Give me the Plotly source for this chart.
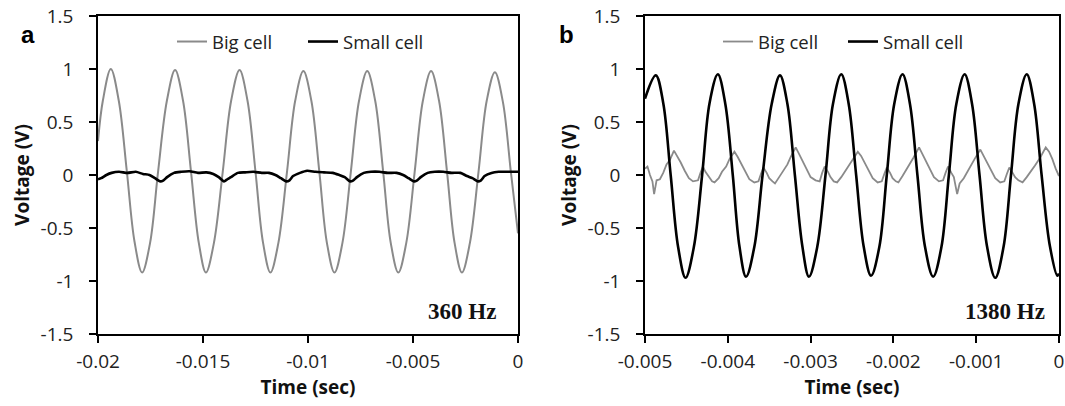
import plotly.graph_objects as go

# ---------------- data ----------------
# Panel a (360 Hz)
a_big_t = [-0.02000, -0.01977, -0.01939, -0.01901, -0.01863, -0.01826, -0.01790, -0.01752, -0.01714, -0.01672,
           -0.01633, -0.01595, -0.01557, -0.01520, -0.01486, -0.01448, -0.01406, -0.01366,
           -0.01326, -0.01288, -0.01250, -0.01214, -0.01179, -0.01141, -0.01100, -0.01061,
           -0.01022, -0.00984, -0.00946, -0.00910, -0.00874, -0.00836, -0.00796, -0.00757,
           -0.00718, -0.00680, -0.00642, -0.00606, -0.00570, -0.00532, -0.00492, -0.00453,
           -0.00414, -0.00376, -0.00338, -0.00302, -0.00267, -0.00229, -0.00188, -0.00149,
           -0.00110, -0.00072, -0.00034, 0.00000]
a_big_v = [0.32, 0.70, 1.00, 0.70, 0.04, -0.63, -0.92, -0.64, 0.03, 0.70,
           0.99, 0.70, 0.03, -0.64, -0.92, -0.64, 0.03, 0.70,
           0.99, 0.70, 0.03, -0.64, -0.92, -0.64, 0.03, 0.70,
           0.98, 0.70, 0.03, -0.64, -0.92, -0.64, 0.03, 0.70,
           0.98, 0.70, 0.03, -0.64, -0.92, -0.64, 0.03, 0.70,
           0.98, 0.70, 0.03, -0.64, -0.92, -0.64, 0.03, 0.70,
           0.97, 0.69, 0.03, -0.55]

a_small_t = [-0.02000, -0.01985, -0.01960, -0.01935, -0.01900, -0.01860, -0.01820, -0.01786, -0.01755, -0.01729,
             -0.01704, -0.01688, -0.01671, -0.01638, -0.01604, -0.01564, -0.01524, -0.01484, -0.01451, -0.01425,
             -0.01400, -0.01384, -0.01367, -0.01334, -0.01300, -0.01260, -0.01220, -0.01186, -0.01155, -0.01129,
             -0.01104, -0.01088, -0.01071, -0.01038, -0.01004, -0.00964, -0.00924, -0.00882, -0.00851, -0.00825,
             -0.00800, -0.00784, -0.00767, -0.00734, -0.00700, -0.00660, -0.00620, -0.00578, -0.00547, -0.00521,
             -0.00496, -0.00480, -0.00463, -0.00430, -0.00396, -0.00356, -0.00316, -0.00274, -0.00243, -0.00217,
             -0.00192, -0.00176, -0.00159, -0.00126, -0.00092, -0.00052, -0.00020, 0.00000]
a_small_v = [-0.04, -0.03, 0.00, 0.02, 0.03, 0.02, 0.03, 0.01, 0.00, -0.03,
             -0.06, -0.05, -0.02, 0.02, 0.03, 0.035, 0.02, 0.025, 0.01, -0.02,
             -0.06, -0.04, -0.02, 0.02, 0.025, 0.03, 0.02, 0.02, 0.00, -0.03,
             -0.06, -0.05, -0.01, 0.02, 0.04, 0.03, 0.025, 0.02, 0.00, -0.02,
             -0.06, -0.05, -0.02, 0.02, 0.03, 0.03, 0.02, 0.02, 0.00, -0.03,
             -0.06, -0.05, -0.02, 0.02, 0.03, 0.03, 0.02, 0.02, -0.01, -0.03,
             -0.06, -0.05, -0.01, 0.02, 0.03, 0.03, 0.03, 0.03]

# Panel b (1380 Hz)
b_big_t = [-0.00500, -0.00497, -0.00494, -0.00491, -0.00489, -0.00486, -0.00482, -0.00478, -0.00474, -0.00470,
           -0.00465, -0.00461, -0.00457, -0.00452, -0.00447, -0.00442, -0.00436, -0.00433, -0.00430,
           -0.00427, -0.00423, -0.00419, -0.00416, -0.00411, -0.00407, -0.00402, -0.00398,
           -0.00392, -0.00388, -0.00384, -0.00379, -0.00374, -0.00368, -0.00363, -0.00360, -0.00357, -0.00353,
           -0.00350, -0.00346, -0.00343, -0.00338, -0.00333, -0.00328, -0.00324,
           -0.00318, -0.00314, -0.00310, -0.00305, -0.00300, -0.00294, -0.00289, -0.00286, -0.00283, -0.00279,
           -0.00276, -0.00272, -0.00268, -0.00263, -0.00259, -0.00254, -0.00250,
           -0.00243, -0.00239, -0.00235, -0.00230, -0.00225, -0.00219, -0.00214, -0.00211, -0.00208, -0.00204,
           -0.00201, -0.00197, -0.00194, -0.00189, -0.00185, -0.00180, -0.00176,
           -0.00169, -0.00165, -0.00161, -0.00156, -0.00151, -0.00145, -0.00140, -0.00137, -0.00134, -0.00130,
           -0.00127, -0.00123, -0.00120, -0.00115, -0.00111, -0.00106, -0.00102,
           -0.00095, -0.00091, -0.00087, -0.00082, -0.00077, -0.00071, -0.00066, -0.00063, -0.00060, -0.00056,
           -0.00053, -0.00049, -0.00044, -0.00039, -0.00034, -0.00029, -0.00023,
           -0.00016, -0.00012, -0.00008, -0.00004, 0.00000]
b_big_v = [0.06, 0.08, 0.00, -0.06, -0.18, -0.05, -0.04, 0.02, 0.10, 0.14,
           0.23, 0.18, 0.12, 0.04, -0.03, -0.06, -0.05, 0.02, 0.08,
           0.03, -0.02, -0.06, -0.07, -0.03, 0.03, 0.08, 0.15,
           0.22, 0.17, 0.11, 0.03, -0.04, -0.07, -0.06, 0.01, 0.07, 0.02,
           -0.03, -0.06, -0.08, -0.02, 0.04, 0.10, 0.17,
           0.26, 0.20, 0.14, 0.06, -0.02, -0.05, -0.06, 0.02, 0.08, 0.03,
           -0.02, -0.06, -0.07, -0.02, 0.03, 0.08, 0.14,
           0.22, 0.18, 0.12, 0.04, -0.03, -0.07, -0.06, 0.01, 0.07, 0.02,
           -0.03, -0.06, -0.07, -0.01, 0.04, 0.10, 0.16,
           0.26, 0.20, 0.13, 0.05, -0.02, -0.06, -0.05, 0.02, 0.08, 0.02,
           -0.02, -0.18, -0.08, -0.03, 0.03, 0.09, 0.15,
           0.24, 0.18, 0.12, 0.04, -0.03, -0.07, -0.06, 0.01, 0.07, 0.02,
           -0.02, -0.05, -0.07, -0.02, 0.03, 0.09, 0.16,
           0.26, 0.22, 0.15, 0.06, -0.01]

b_small_t = [-0.00500, -0.00487, -0.00478, -0.00469, -0.00460, -0.00451, -0.00441, -0.00431, -0.00422,
             -0.00412, -0.00403, -0.00394, -0.00386, -0.00378, -0.00368, -0.00358, -0.00347,
             -0.00337, -0.00328, -0.00319, -0.00310, -0.00302, -0.00292, -0.00282, -0.00273,
             -0.00263, -0.00254, -0.00245, -0.00236, -0.00227, -0.00217, -0.00208, -0.00199,
             -0.00189, -0.00180, -0.00171, -0.00162, -0.00152, -0.00142, -0.00133, -0.00124,
             -0.00114, -0.00105, -0.00096, -0.00087, -0.00077, -0.00067, -0.00058, -0.00049,
             -0.00039, -0.00030, -0.00021, -0.00011, -0.00002, 0.00000]
b_small_v = [0.72, 0.94, 0.68, 0.00, -0.68, -0.97, -0.68, 0.00, 0.68,
             0.95, 0.67, 0.00, -0.67, -0.96, -0.68, 0.00, 0.67,
             0.94, 0.67, 0.00, -0.67, -0.96, -0.68, 0.00, 0.67,
             0.95, 0.67, 0.00, -0.67, -0.95, -0.68, 0.00, 0.67,
             0.95, 0.67, 0.00, -0.67, -0.96, -0.68, 0.00, 0.67,
             0.95, 0.67, 0.00, -0.67, -0.97, -0.68, 0.00, 0.67,
             0.95, 0.67, 0.00, -0.67, -0.95, -0.93]

series_names = ["Big cell", "Small cell"]

a_xticks = [-0.02, -0.015, -0.01, -0.005, 0]
a_xticklabels = ["-0.02", "-0.015", "-0.01", "-0.005", "0"]
b_xticks = [-0.005, -0.004, -0.003, -0.002, -0.001, 0]
b_xticklabels = ["-0.005", "-0.004", "-0.003", "-0.002", "-0.001", "0"]
yticks = [-1.5, -1, -0.5, 0, 0.5, 1, 1.5]
yticklabels = ["-1.5", "-1", "-0.5", "0", "0.5", "1", "1.5"]

freq_labels = ["360 Hz", "1380 Hz"]
panel_labels = ["a", "b"]

# ---------------- figure ----------------
W, H = 1065, 406
GRAY = "#8a8a8a"
FONT = "Open Sans"

fig = go.Figure()
fig.add_trace(go.Scatter(x=a_big_t, y=a_big_v, mode="lines", name=series_names[0],
                         line=dict(color=GRAY, width=2, shape="spline", smoothing=1),
                         xaxis="x", yaxis="y", legend="legend"))
fig.add_trace(go.Scatter(x=a_small_t, y=a_small_v, mode="lines", name=series_names[1],
                         line=dict(color="black", width=2.6, shape="spline", smoothing=0.6),
                         xaxis="x", yaxis="y", legend="legend"))
fig.add_trace(go.Scatter(x=b_big_t, y=b_big_v, mode="lines", name=series_names[0],
                         line=dict(color=GRAY, width=1.8),
                         xaxis="x2", yaxis="y2", legend="legend2"))
fig.add_trace(go.Scatter(x=b_small_t, y=b_small_v, mode="lines", name=series_names[1],
                         line=dict(color="black", width=2.6, shape="spline", smoothing=1),
                         xaxis="x2", yaxis="y2", legend="legend2"))

def px_x(p):
    return p / W

def px_y(p):
    return 1 - p / H

tickfont = dict(family=FONT, size=19, color="#222")
titlefont = dict(family=FONT, size=19, color="#111", weight="bold")

common_x = dict(showline=True, linecolor="black", linewidth=1.5, mirror=True,
                ticks="outside", ticklen=7, tickwidth=1.5, tickcolor="black",
                showgrid=False, zeroline=False, tickfont=tickfont, ticklabelstandoff=2,
                tickmode="array", automargin=False, ticklabeloverflow="allow")
common_y = dict(range=[-1.5, 1.5], showline=True, linecolor="black", linewidth=1.5, mirror=True,
                ticks="outside", ticklen=7, tickwidth=1.5, tickcolor="black",
                showgrid=False, zeroline=False, tickfont=tickfont, ticklabelstandoff=12,
                tickmode="array", tickvals=yticks, ticktext=yticklabels, automargin=False,
                ticklabeloverflow="allow")

yd = [px_y(334), px_y(16)]

fig.update_layout(
    width=W, height=H,
    margin=dict(l=0, r=0, t=0, b=0, autoexpand=False),
    paper_bgcolor="white", plot_bgcolor="white",
    xaxis=dict(common_x, range=[-0.02, 0], domain=[px_x(98), px_x(518)], anchor="y",
               tickvals=a_xticks, ticktext=a_xticklabels,
               title=dict(text="Time (sec)", font=titlefont, standoff=0)),
    yaxis=dict(common_y, domain=yd, anchor="x",
               title=dict(text="Voltage (V)", font=titlefont, standoff=6)),
    xaxis2=dict(common_x, range=[-0.005, 0], domain=[px_x(645), px_x(1059)], anchor="y2",
                tickvals=b_xticks, ticktext=b_xticklabels,
                title=dict(text="Time (sec)", font=titlefont, standoff=0)),
    yaxis2=dict(common_y, domain=yd, anchor="x2",
                title=dict(text="Voltage (V)", font=titlefont, standoff=6)),
    legend=dict(orientation="h", x=px_x(172), y=px_y(42), xanchor="left", yanchor="middle",
                bgcolor="rgba(0,0,0,0)", font=dict(family=FONT, size=18.5, color="#222"),
                itemwidth=30, entrywidth=86, tracegroupgap=0),
    legend2=dict(orientation="h", x=px_x(718), y=px_y(42), xanchor="left", yanchor="middle",
                 bgcolor="rgba(0,0,0,0)", font=dict(family=FONT, size=18.5, color="#222"),
                 itemwidth=30, entrywidth=80, tracegroupgap=0),
    annotations=[
        dict(text=panel_labels[0], x=px_x(19), y=px_y(19), xref="paper", yref="paper",
             showarrow=False, font=dict(family="Liberation Sans", size=24, color="black", weight="bold")),
        dict(text=panel_labels[1], x=px_x(566), y=px_y(19), xref="paper", yref="paper",
             showarrow=False, font=dict(family="Liberation Sans", size=24, color="black", weight="bold")),
        dict(text=freq_labels[0], x=px_x(498), y=px_y(311), xref="paper", yref="paper",
             xanchor="right", yanchor="middle", showarrow=False,
             font=dict(family="Liberation Serif", size=23, color="#111", weight="bold")),
        dict(text=freq_labels[1], x=px_x(1047), y=px_y(311), xref="paper", yref="paper",
             xanchor="right", yanchor="middle", showarrow=False,
             font=dict(family="Liberation Serif", size=23, color="#111", weight="bold")),
    ],
)

# remove the browser's default 8px page margin so the figure sits at the window's corner
fig.write_html("out.html", config={"displayModeBar": False},
               post_script="document.body.style.margin='0';")
